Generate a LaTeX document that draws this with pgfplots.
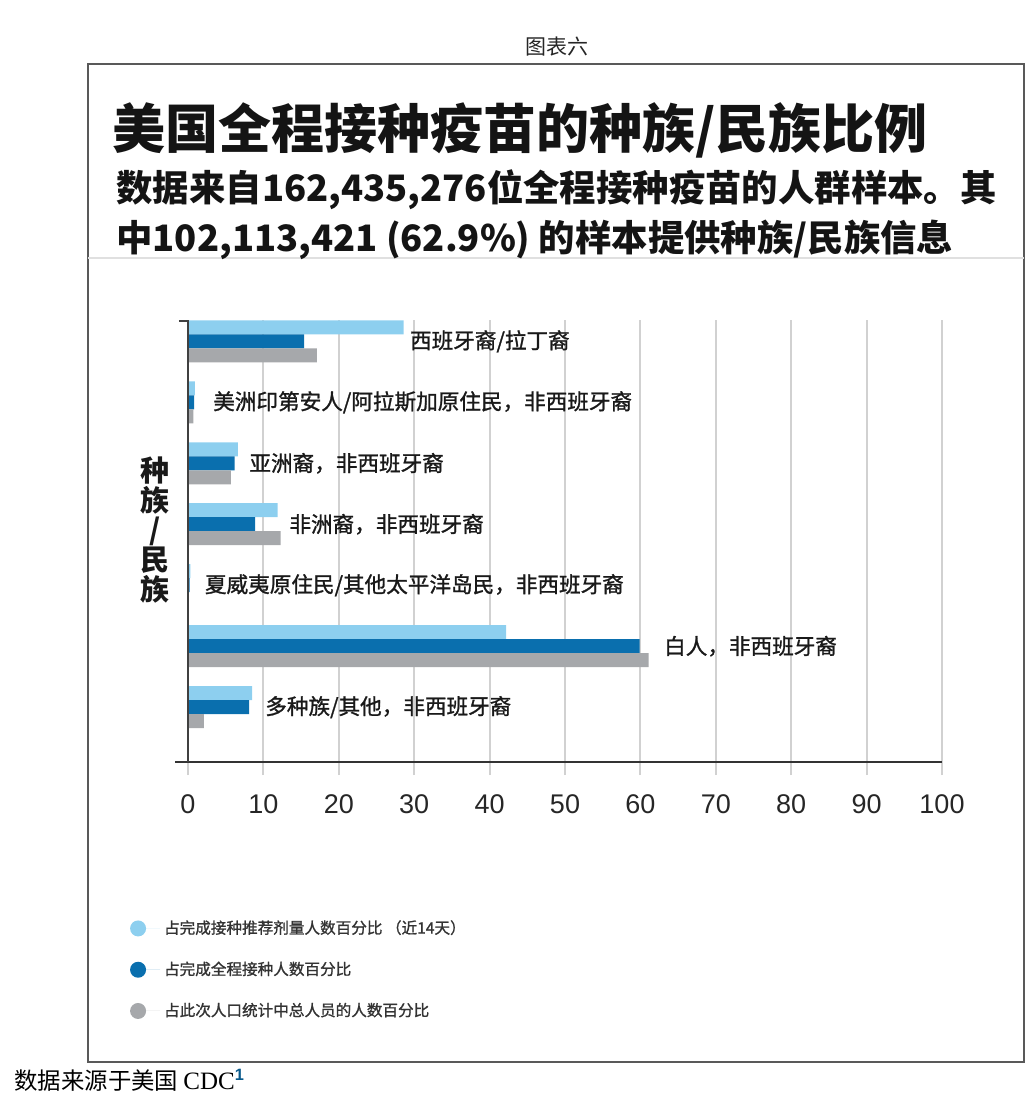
\documentclass[border=0pt]{standalone}
\usepackage{pgfplots}
\usepackage{pgfplotstable}
\pgfplotsset{compat=1.18}
\usepackage{fontspec}
\setmainfont{Noto Sans CJK SC}
\newfontfamily\medfont[FakeBold=1.2]{Noto Sans CJK SC}
\newfontfamily\tickfont{Liberation Sans}
\newfontfamily\seriffont{Liberation Serif}

\definecolor{recentblue}{HTML}{8DCFEF}
\definecolor{fullblue}{HTML}{0A6FAE}
\definecolor{popgray}{HTML}{A6A8AB}

% y = category index (0 = top), values in percent
\pgfplotstableread{
y recent full pop
0 28.6 15.4 17.1
1 0.9 0.8 0.7
2 6.6 6.2 5.7
3 11.9 8.9 12.3
4 0.3 0.2 0.1
5 42.2 59.9 61.1
6 8.5 8.1 2.1
}\racedata

\begin{document}
\begin{tikzpicture}
\begin{scope}[x=0.5pt,y=-0.5pt]
  \path (0,0) rectangle (1036,1096);
  \node[font=\fontsize{10.5}{11}\selectfont, text=black!85] at (557,47) {图表六};
  \draw[black!65, line width=0.6pt] (88,64) rectangle (1024,1062);
  \draw[black!12, line width=1pt] (88,258) -- (1024,258);
  \node[anchor=west, inner sep=0pt, font=\bfseries\fontsize{26.5}{27}\selectfont, text=black!92] at (112,130) {美国全程接种疫苗的种族/民族比例};
  \node[anchor=west, inner sep=0pt, font=\bfseries\fontsize{18.2}{20}\selectfont, text=black!92] at (116,190) {数据来自162,435,276位全程接种疫苗的人群样本。其};
  \node[anchor=west, inner sep=0pt, font=\bfseries\fontsize{18.2}{20}\selectfont, text=black!92] at (116,240) {中102,113,421 (62.9\%) 的样本提供种族/民族信息};
  \node[align=center, inner sep=0pt, font=\bfseries\fontsize{14.5}{14.8}\selectfont, text=black!90] at (155,530) {种\\族\\/\\民\\族};
  \node[anchor=west, inner sep=0pt, font=\fontsize{11.7}{12}\selectfont] at (14,1080) {数据来源于美国 {\seriffont\fontsize{12.5}{12}\selectfont CDC}\textsuperscript{\tickfont\bfseries\color{fullblue!80!black}1}};
\end{scope}

\begin{axis}[
    at={(94pt,-381pt)}, anchor=south west,
    scale only axis, width=377pt, height=221pt,
    xbar, bar width=7pt,
    xmin=0, xmax=100, ymin=-0.35, ymax=6.9, y dir=reverse,
    xtick={0,10,...,100}, ytick=\empty,
    xmajorgrids, grid style={draw=black!18, line width=1pt},
    axis line style={draw=none},
    tick align=outside, xtick pos=lower,
    major tick length=6.5pt, tick style={draw=black!18, line width=1pt},
    xticklabel style={font=\tickfont\fontsize{13.5}{14}\selectfont, text=black!85, yshift=-6.5pt},
    /pgf/number format/assume math mode=true,
    clip=false,
    legend style={at={(axis description cs:-0.0853,-0.339)}, anchor=north west,
        draw=none, fill=none, font=\medfont\fontsize{7.8}{9}\selectfont,
        text=black!80, row sep=8.5pt},
    legend cell align=left,
    legend image code/.code={\fill[#1] (4pt,0pt) circle (4pt);\path (0pt,0pt) -- (15pt,0pt);},
]
\addplot[fill=recentblue, draw=none, bar shift=7pt] table[x=recent, y=y] {\racedata};
\addplot[fill=fullblue, draw=none, bar shift=0pt] table[x=full, y=y] {\racedata};
\addplot[fill=popgray, draw=none, bar shift=-7pt] table[x=pop, y=y] {\racedata};
\legend{占完成接种推荐剂量人数百分比 （近14天）, 占完成全程接种人数百分比, 占此次人口统计中总人员的人数百分比}

\draw[black!80, line width=1pt] (axis description cs:-0.017,0) -- (axis description cs:1,0);
\draw[black!75, line width=1pt] (axis description cs:0,0) -- (axis description cs:0,1);
\draw[black!75, line width=1pt] (axis description cs:-0.012,0.997) -- (axis description cs:0,0.997);

\begin{scope}[every node/.style={anchor=west, inner sep=0pt, font=\medfont\fontsize{10.8}{12}\selectfont, text=black!90}]
\node at (axis cs:29.4,0) {西班牙裔/拉丁裔};
\node at (axis cs:3.3,1) {美洲印第安人/阿拉斯加原住民，非西班牙裔};
\node at (axis cs:8.1,2) {亚洲裔，非西班牙裔};
\node at (axis cs:13.4,3) {非洲裔，非西班牙裔};
\node at (axis cs:2.2,4) {夏威夷原住民/其他太平洋岛民，非西班牙裔};
\node at (axis cs:63.1,5) {白人，非西班牙裔};
\node at (axis cs:10.2,6) {多种族/其他，非西班牙裔};
\end{scope}
\end{axis}
\end{tikzpicture}
\end{document}
